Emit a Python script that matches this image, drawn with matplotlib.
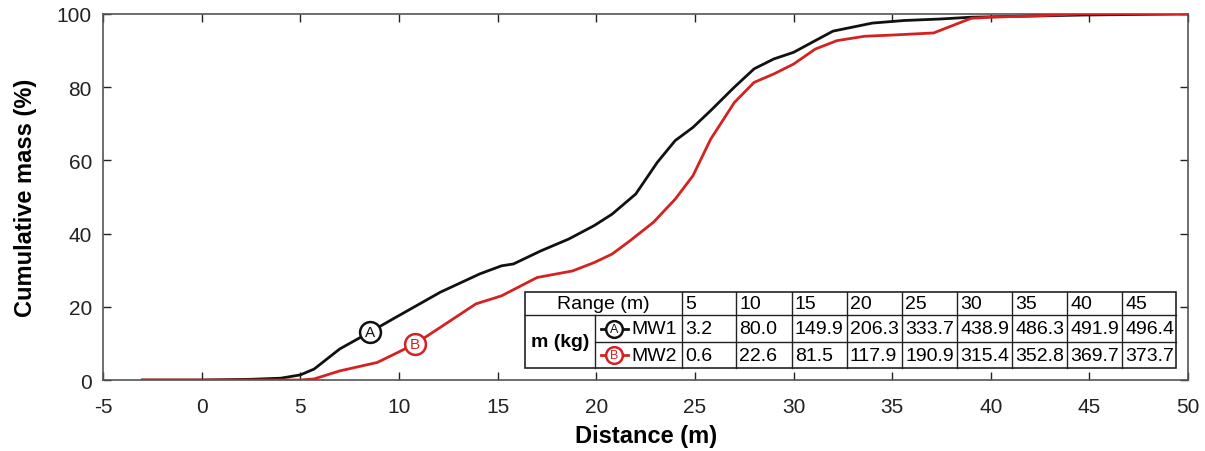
import numpy as np
import matplotlib
matplotlib.use("Agg")
import matplotlib.pyplot as plt
from matplotlib.lines import Line2D

plt.rcParams['font.family'] = ['Liberation Sans', 'DejaVu Sans']
plt.rcParams['axes.unicode_minus'] = False

# cumulative mass curves
dist_mw1 = [-3, 0, 2.5, 4.0, 5.0, 5.7, 7.0, 8.5, 9.7, 12.1, 14.1, 15.2, 15.8, 17.2, 18.6,
            19.9, 20.8, 22.0, 23.1, 24.0, 24.9, 25.8, 27.0, 28.0, 29.0, 30.0, 31.1, 32.0,
            34.0, 35.6, 37.4, 39.0, 44.7, 50]
cum_mw1 = [0, 0, 0.2, 0.5, 1.4, 3.0, 8.5, 13.0, 16.7, 24.0, 29.0, 31.2, 31.7, 35.3, 38.5,
           42.2, 45.3, 50.8, 59.5, 65.4, 69.0, 73.6, 80.0, 85.0, 87.7, 89.5, 92.7, 95.3,
           97.5, 98.2, 98.6, 99.1, 99.7, 100]

dist_mw2 = [-3, 0, 5.0, 5.7, 7.0, 8.9, 10.8, 12.1, 13.9, 15.2, 17.0, 18.8, 19.9, 20.8,
            21.7, 22.9, 24.0, 24.9, 25.8, 27.0, 28.0, 29.0, 30.0, 31.1, 32.2, 33.6, 34.9,
            37.1, 39.0, 40.0, 42.4, 44.5, 50]
cum_mw2 = [0, 0, 0, 0.3, 2.5, 4.8, 9.8, 14.4, 20.8, 23.0, 28.0, 29.8, 32.1, 34.4,
           38.0, 43.1, 49.4, 55.8, 65.8, 75.8, 81.3, 83.6, 86.3, 90.4, 92.7, 93.9, 94.2,
           94.8, 98.8, 99.1, 99.5, 100, 100]

# curve tags
tag_a = (8.53, 13.0)
tag_b = (10.8, 9.8)

# table contents
ranges = ['5', '10', '15', '20', '25', '30', '35', '40', '45']
mass_mw1 = ['3.2', '80.0', '149.9', '206.3', '333.7', '438.9', '486.3', '491.9', '496.4']
mass_mw2 = ['0.6', '22.6', '81.5', '117.9', '190.9', '315.4', '352.8', '369.7', '373.7']

black = '#111111'
red = '#d42222'

fig = plt.figure(figsize=(12.05, 4.52), dpi=100)
ax = fig.add_axes([0.0855, 0.157, 0.9005, 0.81])

ax.plot(dist_mw1, cum_mw1, color=black, lw=2.0, zorder=3)
ax.plot(dist_mw2, cum_mw2, color=red, lw=2.0, zorder=3)

def tag(ax, pos, letter, color):
    ax.plot([pos[0]], [pos[1]], marker='o', ms=15, mfc='white', mec=color, mew=1.8,
            zorder=5, clip_on=False)
    ax.text(pos[0], pos[1], letter, color=color, fontsize=11, ha='center', va='center',
            zorder=6)

tag(ax, tag_a, 'A', black)
tag(ax, tag_b, 'B', red)

ax.set_xlim(-5, 50)
ax.set_ylim(0, 100)
ax.set_xticks(np.arange(-5, 51, 5))
ax.set_yticks(np.arange(0, 101, 20))
ax.tick_params(direction='in', top=True, right=True, length=6, width=1,
               labelsize=15, colors='#222222')
ax.tick_params(axis='x', pad=12)
ax.tick_params(axis='y', pad=8)
for s in ax.spines.values():
    s.set_color('#555555')
    s.set_linewidth(1.2)

ax.set_xlabel('Distance (m)', fontsize=17, fontweight='bold', labelpad=6)
ax.set_ylabel('Cumulative mass (%)', fontsize=17, fontweight='bold', labelpad=14)

# table drawn in axes fraction
cols = [0.3887, 0.4535, 0.5333, 0.5834, 0.6346, 0.6853, 0.7364, 0.7871,
        0.8378, 0.8885, 0.9392, 0.9887]
rows = [0.2396, 0.1784, 0.1030, 0.0320]
T = ax.transAxes
ax.add_patch(plt.Rectangle((cols[0], rows[3]), cols[-1] - cols[0], rows[0] - rows[3],
                           transform=T, facecolor='white', edgecolor='#222222',
                           lw=1.2, zorder=7))
lkw = dict(transform=T, color='#222222', lw=1.0, zorder=8)
ax.add_line(Line2D([cols[0], cols[-1]], [rows[1], rows[1]], **lkw))
ax.add_line(Line2D([cols[1], cols[-1]], [rows[2], rows[2]], **lkw))
ax.add_line(Line2D([cols[1], cols[1]], [rows[1], rows[3]], **lkw))
for c in cols[2:-1]:
    ax.add_line(Line2D([c, c], [rows[0], rows[3]], **lkw))

fs = 14
pad = 0.003
ax.text((cols[0] + cols[2]) / 2, (rows[0] + rows[1]) / 2, 'Range (m)', transform=T,
        fontsize=fs, ha='center', va='center', zorder=9)
ax.text((cols[0] + cols[1]) / 2, (rows[1] + rows[3]) / 2, 'm (kg)', transform=T,
        fontsize=fs, fontweight='bold', ha='center', va='center', zorder=9)
for i in range(len(ranges)):
    x0 = cols[i + 2] + pad
    ax.text(x0, (rows[0] + rows[1]) / 2, ranges[i], transform=T, fontsize=fs,
            ha='left', va='center', zorder=9)
    ax.text(x0, (rows[1] + rows[2]) / 2, mass_mw1[i], transform=T, fontsize=fs,
            ha='left', va='center', zorder=9)
    ax.text(x0, (rows[2] + rows[3]) / 2, mass_mw2[i], transform=T, fontsize=fs,
            ha='left', va='center', zorder=9)

for name, color, letter, r in [('MW1', black, 'A', 1), ('MW2', red, 'B', 2)]:
    yc = (rows[r] + rows[r + 1]) / 2
    ax.add_line(Line2D([cols[1] + 0.005, cols[1] + 0.030], [yc, yc], transform=T,
                       color=color, lw=2.0, zorder=9))
    ax.plot([cols[1] + 0.0175], [yc], marker='o', ms=12, mfc='white', mec=color,
            mew=1.8, transform=T, zorder=10, clip_on=False)
    ax.text(cols[1] + 0.0175, yc, letter, transform=T, color=color, fontsize=9,
            ha='center', va='center', zorder=11)
    ax.text(cols[1] + 0.033, yc, name, transform=T, fontsize=fs, ha='left',
            va='center', zorder=9)

fig.savefig('out.png', dpi=100)
